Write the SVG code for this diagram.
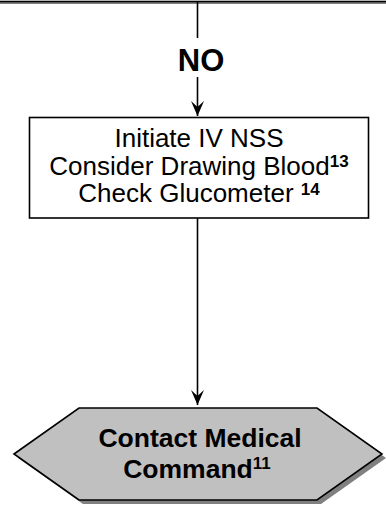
<svg xmlns="http://www.w3.org/2000/svg" width="386" height="507" viewBox="0 0 386 507">
  <defs>
    <style>
      .edge { stroke: #000; stroke-width: 1.6; fill: none; }
      .box { fill: #fff; stroke: #000; stroke-width: 1.6; }
      .shadow { fill: #808080; stroke: none; }
      .hex { fill: #c0c0c0; stroke: #000; stroke-width: 1.6; stroke-linejoin: miter; }
      .t { font-family: "Liberation Sans", Arial, sans-serif; fill: #000; text-anchor: middle; }
      .reg { font-size: 26px; }
      .bold { font-size: 26.5px; font-weight: bold; }
      .sup { font-size: 17px; font-weight: bold; }
      .lbl { font-size: 31px; font-weight: bold; }
    </style>
  </defs>

  <g id="prev-node">
    <rect class="shadow" x="-10" y="-40" width="406" height="44"/>
    <rect class="box" x="-10" y="-50" width="406" height="51.5"/>
  </g>

  <g id="connectors">
    <line class="edge" x1="197.5" y1="2" x2="197.5" y2="38"/>
    <line class="edge" x1="197.5" y1="77" x2="197.5" y2="116"/>
    <path d="M191,101 L197.5,116 L204,101 L197.5,107 Z" fill="#000"/>
    <text class="t lbl" x="201" y="71">NO</text>
    <line class="edge" x1="197.5" y1="218" x2="197.5" y2="405"/>
    <path d="M191,390 L197.5,405 L204,390 L197.5,396 Z" fill="#000"/>
  </g>

  <g id="iv-box">
    <rect class="box" x="29.5" y="117.5" width="339" height="100.5"/>
    <text class="t reg" x="199" y="147">Initiate IV NSS</text>
    <text class="t reg" x="199" y="174.5">Consider Drawing Blood<tspan class="sup" dy="-8">13</tspan></text>
    <text class="t reg" x="199" y="202">Check Glucometer <tspan class="sup" dy="-7">14</tspan></text>
  </g>

  <g id="contact-medical">
    <polygon class="shadow" points="18,458 83,412 321,412 386,458 321,504 83,504"/>
    <polygon class="hex" points="14,454 79,408 317,408 382,454 317,500 79,500"/>
    <text class="t bold" x="200" y="447">Contact Medical</text>
    <text class="t bold" x="197" y="478">Command<tspan class="sup" dy="-9">11</tspan></text>
  </g>
</svg>
